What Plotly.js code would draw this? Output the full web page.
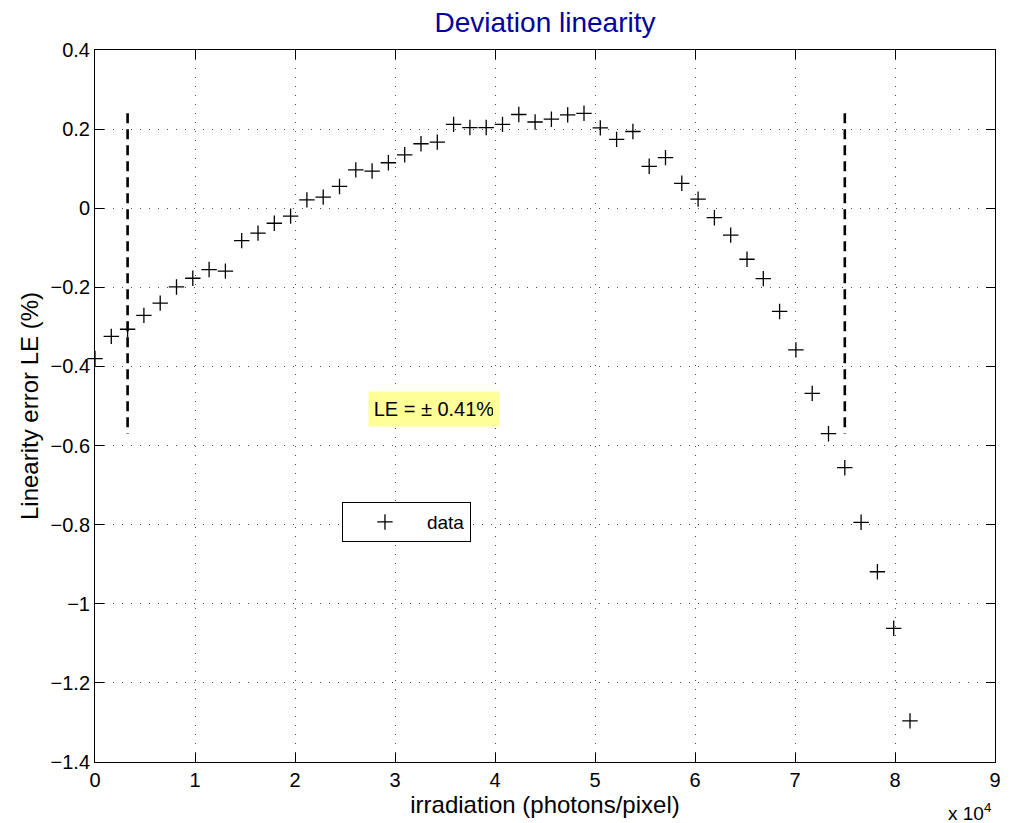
<!DOCTYPE html>
<html>
<head>
<meta charset="utf-8">
<script src="https://cdn.plot.ly/plotly-3.0.1.min.js"></script>
<style>html,body{margin:0;padding:0;background:#fff;}#chart{width:1010px;height:823px;}</style>
</head>
<body>
<div id="chart"></div>
<script>
// irradiation (photons/pixel)
const irradiation = [0, 1630, 3260, 4890, 6520, 8150, 9780, 11410, 13040, 14670,
  16300, 17930, 19560, 21190, 22820, 24450, 26080, 27710, 29340, 30970,
  32600, 34230, 35860, 37490, 39120, 40750, 42380, 44010, 45640, 47270,
  48900, 50530, 52160, 53790, 55420, 57050, 58680, 60310, 61940, 63570,
  65200, 66830, 68460, 70090, 71720, 73350, 74980, 76610, 78240, 79870, 81500];
// linearity error LE (%)
const linearityError = [-0.380, -0.324, -0.306, -0.271, -0.240, -0.199, -0.177, -0.155, -0.159, -0.082,
  -0.063, -0.038, -0.020, 0.021, 0.028, 0.055, 0.097, 0.094, 0.115, 0.135,
  0.163, 0.167, 0.212, 0.204, 0.204, 0.212, 0.237, 0.218, 0.225, 0.236,
  0.240, 0.203, 0.174, 0.194, 0.106, 0.128, 0.063, 0.023, -0.024, -0.068,
  -0.129, -0.178, -0.261, -0.358, -0.468, -0.570, -0.656, -0.794, -0.919, -1.062, -1.296];
// range bounds (dashed markers)
const boundLeftX = [3260, 3260];
const boundRightX = [74980, 74980];
const boundY = [0.24, -0.57];
// axis ticks
const xTickVals = [0, 10000, 20000, 30000, 40000, 50000, 60000, 70000, 80000, 90000];
const xTickText = ['0', '1', '2', '3', '4', '5', '6', '7', '8', '9'];
const yTickVals = [-1.4, -1.2, -1, -0.8, -0.6, -0.4, -0.2, 0, 0.2, 0.4];
const yTickText = ['\u22121.4', '\u22121.2', '\u22121', '\u22120.8', '\u22120.6', '\u22120.4', '\u22120.2', '0', '0.2', '0.4'];
const leText = 'LE = \u00b1 0.41%';

const FONT = 'Liberation Sans, Arial, Helvetica, sans-serif';

const traces = [
  {
    x: irradiation, y: linearityError, type: 'scatter', mode: 'markers', name: 'data',
    marker: {symbol: 'cross-thin-open', size: 11, color: '#000', line: {color: '#000', width: 1.3}},
    cliponaxis: false
  },
  {
    x: boundLeftX, y: boundY, type: 'scatter', mode: 'lines', showlegend: false, hoverinfo: 'skip',
    line: {color: '#000', width: 2.6, dash: '10px,6px'}
  },
  {
    x: boundRightX, y: boundY, type: 'scatter', mode: 'lines', showlegend: false, hoverinfo: 'skip',
    line: {color: '#000', width: 2.6, dash: '10px,6px'}
  }
];

const axisCommon = {
  showline: true, linecolor: '#000', linewidth: 1, mirror: 'ticks',
  ticks: 'inside', ticklen: 9, tickwidth: 1, tickcolor: '#000',
  showgrid: true, gridcolor: 'rgba(0,0,0,0.7)', gridwidth: 1, griddash: '1px,8px',
  zeroline: false, tickfont: {family: FONT, size: 20, color: '#000'}
};

const layout = {
  width: 1010, height: 823,
  margin: {l: 95, r: 15, t: 50, b: 61},
  paper_bgcolor: '#fff', plot_bgcolor: '#fff',
  font: {family: FONT, color: '#000'},
  title: {text: 'Deviation linearity', font: {family: FONT, size: 28, color: '#0000A0'},
    x: 0.5, xref: 'paper', xanchor: 'center', y: 0.973, yref: 'container', yanchor: 'middle'},
  xaxis: Object.assign({}, axisCommon, {
    range: [0, 90000], tickvals: xTickVals, ticktext: xTickText,
    title: {text: 'irradiation (photons/pixel)', font: {family: FONT, size: 24, color: '#000'}, standoff: 0}
  }),
  yaxis: Object.assign({}, axisCommon, {
    range: [-1.4, 0.4], tickvals: yTickVals, ticktext: yTickText,
    title: {text: 'Linearity error LE (%)', font: {family: FONT, size: 24, color: '#000'}, standoff: 5}
  }),
  showlegend: true,
  legend: {
    x: 0.2744, y: 0.365, xanchor: 'left', yanchor: 'top',
    bgcolor: '#fff', bordercolor: '#000', borderwidth: 1,
    font: {family: FONT, size: 19, color: '#000'}, itemwidth: 74
  },
  annotations: [
    {x: 33900, y: -0.508, xref: 'x', yref: 'y', text: leText, showarrow: false,
      font: {family: FONT, size: 20, color: '#000'}, bgcolor: '#FFFF99',
      width: 118, height: 22, borderpad: 6},
    {x: 0.972, y: -0.07, xref: 'paper', yref: 'paper', text: 'x 10<sup>4</sup>', showarrow: false,
      font: {family: FONT, size: 19, color: '#000'}, xanchor: 'center', yanchor: 'middle'}
  ]
};

Plotly.newPlot('chart', traces, layout, {displayModeBar: false, staticPlot: true});
</script>
</body>
</html>
